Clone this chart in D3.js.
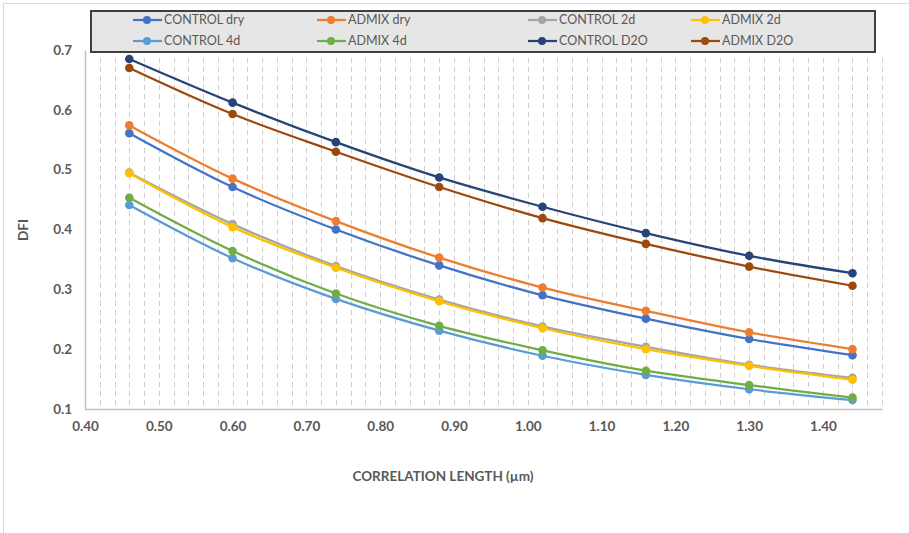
<!DOCTYPE html>
<html>
<head>
<meta charset="utf-8">
<script src="https://cdn.jsdelivr.net/npm/d3@7"></script>
<style>
  body { margin: 0; background: #fff; }
  text { font-family: Lato, "Open Sans", sans-serif; fill: #595959; }
</style>
</head>
<body>
<div id="chart"></div>
<script>
// correlation length (µm) on x
var lengths = [0.46, 0.60, 0.74, 0.88, 1.02, 1.16, 1.30, 1.44];

var controlDry = [0.561, 0.471, 0.400, 0.340, 0.290, 0.251, 0.217, 0.190];
var admixDry   = [0.574, 0.485, 0.414, 0.353, 0.303, 0.264, 0.228, 0.200];
var control2d  = [0.495, 0.409, 0.339, 0.283, 0.238, 0.204, 0.174, 0.152];
var admix2d    = [0.494, 0.404, 0.336, 0.280, 0.235, 0.200, 0.172, 0.149];
var control4d  = [0.441, 0.352, 0.284, 0.231, 0.189, 0.157, 0.133, 0.115];
var admix4d    = [0.453, 0.364, 0.293, 0.239, 0.198, 0.164, 0.140, 0.119];
var controlD2O = [0.685, 0.612, 0.546, 0.487, 0.438, 0.394, 0.356, 0.327];
var admixD2O   = [0.670, 0.593, 0.530, 0.471, 0.419, 0.376, 0.338, 0.306];

var seriesNames = ["CONTROL dry", "ADMIX dry", "CONTROL 2d", "ADMIX 2d",
                   "CONTROL 4d", "ADMIX 4d", "CONTROL D2O", "ADMIX D2O"];
var seriesValues = [controlDry, admixDry, control2d, admix2d,
                    control4d, admix4d, controlD2O, admixD2O];
var colors = ["#4472c4", "#ed7d31", "#a5a5a5", "#ffc000",
              "#5b9bd5", "#70ad47", "#264478", "#9e480e"];

var xTicks = [0.40, 0.50, 0.60, 0.70, 0.80, 0.90, 1.00, 1.10, 1.20, 1.30, 1.40];
var yTicks = [0.1, 0.2, 0.3, 0.4, 0.5, 0.6, 0.7];

var w = 909, h = 533;
var plotL = 85, plotR = 882, plotT = 50, plotB = 409;

var svg = d3.select("#chart").append("svg")
    .attr("width", w)
    .attr("height", h);

// outer chart frame
svg.append("rect")
    .attr("x", 3.5).attr("y", 3.5)
    .attr("width", w + 10).attr("height", h + 10)
    .attr("fill", "none")
    .attr("stroke", "#d9d9d9");

var x = d3.scaleLinear().domain([0.40, 1.48]).range([plotL, plotR]);
var y = d3.scaleLinear().domain([0.1, 0.7]).range([plotB, plotT]);

// dashed minor vertical gridlines every 0.02
var grid = d3.range(21, 75).map(function(i) { return i * 0.02; });
svg.append("g").selectAll("line")
    .data(grid)
    .enter().append("line")
    .attr("x1", function(d) { return Math.round(x(d)) + 0.5; })
    .attr("x2", function(d) { return Math.round(x(d)) + 0.5; })
    .attr("y1", plotT + 8)
    .attr("y2", plotB)
    .attr("stroke", "#cfcfcf")
    .attr("stroke-width", 1)
    .attr("stroke-dasharray", "5,4");

// axes
var xAxis = svg.append("g")
    .attr("transform", "translate(0," + plotB + ")")
    .call(d3.axisBottom(x).tickValues(xTicks).tickFormat(d3.format(".2f")).tickSize(0).tickPadding(12));
xAxis.select(".domain").attr("stroke", "#bfbfbf").attr("stroke-width", 1.5);

var yAxis = svg.append("g")
    .attr("transform", "translate(" + plotL + ",0)")
    .call(d3.axisLeft(y).tickValues(yTicks).tickFormat(d3.format(".1f")).tickSize(0).tickPadding(13));
yAxis.select(".domain").attr("stroke", "#bfbfbf").attr("stroke-width", 1.5);

svg.selectAll(".tick text")
    .style("font-family", "Lato, 'Open Sans', sans-serif")
    .style("font-size", "13.5px")
    .style("font-weight", "bold")
    .attr("fill", "#595959");

// axis titles
svg.append("text")
    .attr("x", 443).attr("y", 481)
    .attr("text-anchor", "middle")
    .style("font-size", "13.5px")
    .style("font-weight", "bold")
    .text("CORRELATION LENGTH (µm)");

svg.append("text")
    .attr("transform", "translate(28,230) rotate(-90)")
    .attr("text-anchor", "middle")
    .style("font-size", "13.5px")
    .style("font-weight", "bold")
    .text("DFI");

// series
var line = d3.line()
    .x(function(d) { return x(d[0]); })
    .y(function(d) { return y(d[1]); })
    .curve(d3.curveCatmullRom.alpha(0.5));

var series = svg.append("g").selectAll("g")
    .data(seriesValues)
    .enter().append("g");

series.append("path")
    .attr("d", function(vals) { return line(vals.map(function(v, i) { return [lengths[i], v]; })); })
    .attr("fill", "none")
    .attr("stroke", function(d, i) { return colors[i]; })
    .attr("stroke-width", 2.25);

series.each(function(vals, si) {
    d3.select(this).selectAll("circle")
        .data(vals)
        .enter().append("circle")
        .attr("cx", function(v, i) { return x(lengths[i]); })
        .attr("cy", function(v) { return y(v); })
        .attr("r", 4.3)
        .attr("fill", colors[si]);
});

// legend
svg.append("rect")
    .attr("x", 91).attr("y", 11)
    .attr("width", 784).attr("height", 41)
    .attr("fill", "#e7e6e6")
    .attr("stroke", "#404040")
    .attr("stroke-width", 2);

var legendX = [147, 331, 542, 705];
var legendY = [20, 41];

var items = svg.append("g").selectAll("g")
    .data(seriesNames)
    .enter().append("g")
    .attr("transform", function(d, i) {
        return "translate(" + legendX[i % 4] + "," + legendY[Math.floor(i / 4)] + ")";
    });

items.append("line")
    .attr("x1", -14).attr("x2", 15)
    .attr("stroke", function(d, i) { return colors[i]; })
    .attr("stroke-width", 2.25);

items.append("circle")
    .attr("r", 4)
    .attr("fill", function(d, i) { return colors[i]; });

items.append("text")
    .attr("x", 17)
    .attr("dy", "0.35em")
    .style("font-size", "12.5px")
    .text(function(d) { return d; });
</script>
</body>
</html>
